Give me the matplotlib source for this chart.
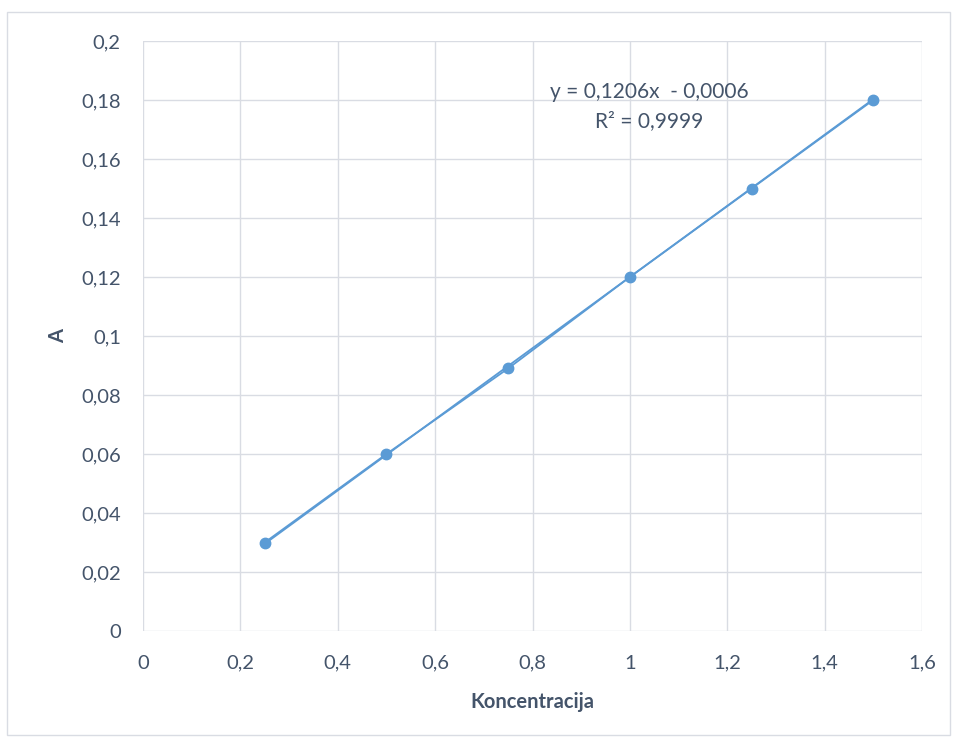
import numpy as np
import matplotlib.pyplot as plt
from matplotlib.patches import Rectangle
from matplotlib.ticker import FuncFormatter, MultipleLocator

# Measured data (concentration vs absorbance)
konc = [0.25, 0.5, 0.75, 1.0, 1.25, 1.5]
absorb = [0.03, 0.06, 0.089, 0.12, 0.15, 0.18]

# Linear trendline shown in the chart
slope = 0.1206
intercept = -0.0006
eq_text = "y = 0,1206x  - 0,0006"
r2_text = "R² = 0,9999"

blue = '#5B9BD5'
text_col = '#44546A'
grid_col = '#D9DCE3'

plt.rcParams['font.family'] = ['Lato', 'DejaVu Sans']

fig = plt.figure(figsize=(9.55, 7.37), dpi=100)
fig.patches.append(Rectangle((7 / 955, 2 / 737), 943 / 955, 723 / 737,
                             transform=fig.transFigure, fill=False,
                             edgecolor=grid_col, linewidth=1))

ax = fig.add_axes([143 / 955, 106 / 737, 779 / 955, 590 / 737])

# trendline over the data range
tx = np.array([konc[0], konc[-1]])
ax.plot(tx, slope * tx + intercept, color=blue, linewidth=1.3, zorder=3)
# data series with markers
ax.plot(konc, absorb, color=blue, linewidth=1.3, marker='o', markersize=7.5, zorder=4)

ax.set_xlim(0, 1.6)
ax.set_ylim(0, 0.2)
ax.xaxis.set_major_locator(MultipleLocator(0.2))
ax.yaxis.set_major_locator(MultipleLocator(0.02))

def comma(v, pos):
    s = f"{v:.2f}".rstrip('0').rstrip('.')
    return s.replace('.', ',')

ax.xaxis.set_major_formatter(FuncFormatter(comma))
ax.yaxis.set_major_formatter(FuncFormatter(comma))

ax.grid(True, color=grid_col, linewidth=1)
ax.set_axisbelow(True)
for side in ['top', 'right', 'bottom', 'left']:
    ax.spines[side].set_visible(False)
ax.tick_params(length=0, labelsize=14.5, colors=text_col)
ax.tick_params(axis='y', pad=16)
ax.tick_params(axis='x', pad=17)

ax.set_xlabel('Koncentracija', fontsize=14.5, fontweight='bold', color=text_col, labelpad=15)
ax.set_ylabel('A', fontsize=14.5, fontweight='bold', color=text_col, labelpad=9)

ax.text(1.039, 0.1827, eq_text, ha='center', va='center', fontsize=15, color=text_col)
ax.text(1.039, 0.1729, r2_text, ha='center', va='center', fontsize=15, color=text_col)

fig.savefig('out.png', dpi=100)
